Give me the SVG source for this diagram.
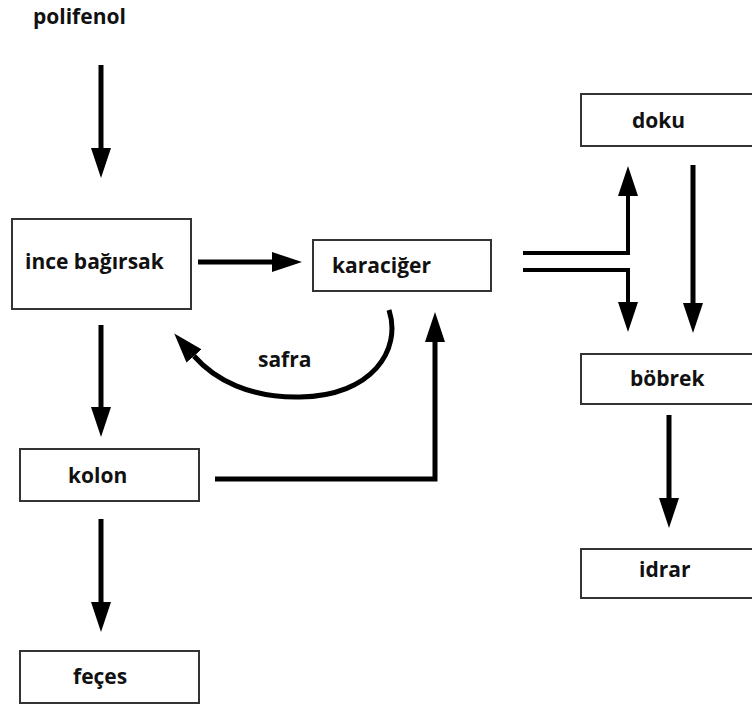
<svg xmlns="http://www.w3.org/2000/svg" width="752" height="704" viewBox="0 0 752 704">
<defs>
<style>
.box{fill:#fff;stroke:#333;stroke-width:2}
.lbl{font-family:"Open Sans","Liberation Sans",sans-serif;font-weight:700;font-size:21px;fill:#111}
.ln{fill:none;stroke:#000;stroke-width:5;marker-end:url(#ah)}
.ln2{fill:none;stroke:#000;stroke-width:4;marker-end:url(#ah)}
</style>
<marker id="ah" markerUnits="userSpaceOnUse" viewBox="0 0 30 20" markerWidth="30" markerHeight="20" refX="0" refY="10" orient="auto">
<path d="M0,0 L30,10 L0,20 z" fill="#000"/>
</marker>
</defs>
<rect width="752" height="704" fill="#fff"/>
<g id="polifenol"><text class="lbl" x="33" y="24">polifenol</text></g>
<g id="ince"><rect class="box" x="12" y="219" width="179" height="90"/><text class="lbl" x="25" y="269">ince bağırsak</text></g>
<g id="karaciger"><rect class="box" x="313" y="240" width="178" height="51"/><text class="lbl" x="332" y="273">karaciğer</text></g>
<g id="doku"><rect class="box" x="581" y="94" width="180" height="52"/><text class="lbl" x="632" y="128">doku</text></g>
<g id="bobrek"><rect class="box" x="581" y="354" width="180" height="50"/><text class="lbl" x="630" y="386">böbrek</text></g>
<g id="kolon"><rect class="box" x="20" y="449" width="179" height="52"/><text class="lbl" x="68" y="483">kolon</text></g>
<g id="feces"><rect class="box" x="20" y="651" width="179" height="52"/><text class="lbl" x="73" y="684">feçes</text></g>
<g id="idrar"><rect class="box" x="581" y="549" width="180" height="49"/><text class="lbl" x="639" y="577">idrar</text></g>
<g id="safra"><text class="lbl" x="258" y="367">safra</text></g>
<g id="connectors">
<path class="ln" d="M101 65 V148"/>
<path class="ln" d="M198 262 H272"/>
<path class="ln" d="M101 325 V407"/>
<path class="ln" d="M101 519 V602"/>
<path class="ln" d="M215 479 H435 V342"/>
<path class="ln" d="M389 310 C402 350 372 396 300 397 C250 398 215 380 194 356"/>
<path class="ln2" d="M523 253 H628 V196"/>
<path class="ln2" d="M523 270 H628 V302"/>
<path class="ln" d="M693 165 V303"/>
<path class="ln" d="M669 415 V498"/>
</g>
</svg>
